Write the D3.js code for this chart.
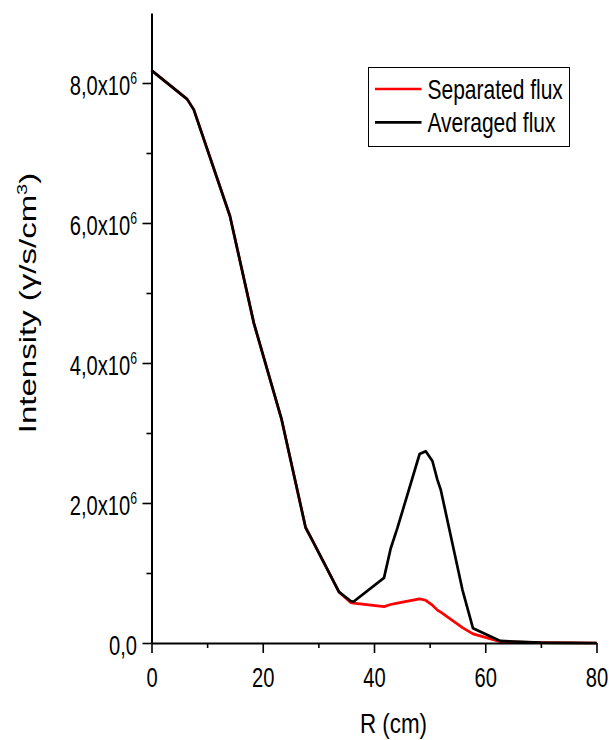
<!DOCTYPE html>
<html>
<head>
<meta charset="utf-8">
<script src="https://cdn.jsdelivr.net/npm/d3@7"></script>
<style>
  body { margin: 0; background: #fff; }
  svg { display: block; font-family: "Liberation Sans", Arial, sans-serif; }
</style>
</head>
<body>
<div id="chart"></div>
<script>
// R positions (cm)
const rValues = [0, 6.4, 7.6, 14.1, 18.4, 23.4, 27.7, 28.9, 33.7, 35.8, 36.3, 41.8, 43.0, 44.2, 48.2, 49.3, 50.5, 51.4, 52.0, 55.9, 57.8, 62.7, 70, 80]
// intensities in units of 1e6 γ/s/cm³
const averagedFlux = [8.18, 7.77, 7.62, 6.10, 4.57, 3.19, 1.65, 1.47, 0.73, 0.60, 0.59, 0.93, 1.35, 1.64, 2.70, 2.74, 2.60, 2.33, 2.19, 0.76, 0.21, 0.03, 0.005, 0]
const separatedFlux = [8.18, 7.77, 7.62, 6.10, 4.57, 3.19, 1.65, 1.47, 0.73, 0.58, 0.57, 0.52, 0.55, 0.57, 0.63, 0.61, 0.54, 0.47, 0.44, 0.22, 0.13, 0.02, 0.005, 0]

const xMajor = [0, 20, 40, 60, 80]
const xMinor = [10, 30, 50, 70]
const yMajor = [0, 2e6, 4e6, 6e6, 8e6]
const yMinor = [1e6, 3e6, 5e6, 7e6]

const seriesNames = ["Separated flux", "Averaged flux"]
const seriesColors = ["#ff0000", "#000000"]

const width = 609
const height = 740
const marginLeft = 151.5
const marginRight = 12.5
const marginTop = 13
const marginBottom = 97
const squeeze = 0.72   // the original text is narrowed horizontally
const font = "28px"

const x = d3.scaleLinear().domain([0, 80]).range([marginLeft, width - marginRight])
const y = d3.scaleLinear().domain([0, 9e6]).range([height - marginBottom, marginTop])

const svg = d3.select("#chart").append("svg")
    .attr("width", width)
    .attr("height", height)
    .attr("viewBox", [0, 0, width, height])

// data lines
const line = d3.line()
    .x((d) => x(d[0]))
    .y((d) => y(d[1] * 1e6))

const series = [separatedFlux, averagedFlux]
series.forEach((vals, i) => {
    svg.append("path")
        .datum(rValues.map((r, k) => [r, vals[k]]))
        .attr("fill", "none")
        .attr("stroke", seriesColors[i])
        .attr("stroke-width", 2.7)
        .attr("stroke-linejoin", "round")
        .attr("d", line)
})

// x axis
const xAxisG = svg.append("g")
    .attr("transform", `translate(0,${y(0)})`)
xAxisG.append("g")
    .call(d3.axisBottom(x).tickValues(xMinor).tickSize(5).tickFormat(""))
    .call((g) => g.select(".domain").remove())
xAxisG.append("g")
    .call(d3.axisBottom(x).tickValues(xMajor).tickSize(10).tickSizeOuter(0).tickFormat(d3.format("d")))
    .call((g) => g.select(".domain").attr("stroke-width", 2))
    .call((g) => g.selectAll("text")
        .attr("font-size", font)
        .attr("fill", "#000")
        .attr("y", 44)
        .attr("dy", null)
        .attr("transform", `scale(${squeeze},1)`))
xAxisG.selectAll(".tick line").attr("stroke-width", 1.6)

// y axis
const yAxisG = svg.append("g")
    .attr("transform", `translate(${x(0)},0)`)
yAxisG.append("g")
    .call(d3.axisLeft(y).tickValues(yMinor).tickSize(5).tickFormat(""))
    .call((g) => g.select(".domain").remove())
yAxisG.append("g")
    .call(d3.axisLeft(y).tickValues(yMajor).tickSize(9).tickSizeOuter(0).tickFormat(""))
    .call((g) => g.select(".domain").attr("stroke-width", 2))
    .call((g) => g.selectAll(".tick").append("text")
        .attr("font-size", font)
        .attr("fill", "#000")
        .attr("text-anchor", "end")
        .attr("x", -14.5 / squeeze)
        .attr("y", 11)
        .attr("transform", `scale(${squeeze},1)`)
        .each(function (d) {
            const t = d3.select(this)
            if (d === 0) {
                t.text("0,0")
                return
            }
            t.append("tspan").text((d / 1e6).toFixed(1).replace(".", ",") + "x10")
            t.append("tspan").attr("font-size", "17px").attr("dy", -11).text("6")
        }))
yAxisG.selectAll(".tick line").attr("stroke-width", 1.6)

// axis titles
svg.append("g")
    .attr("transform", `translate(${x(43.5)},${height - 7}) scale(0.8,1)`)
    .append("text")
    .attr("text-anchor", "middle")
    .attr("font-size", font)
    .text("R (cm)")

const yTitle = svg.append("g")
    .attr("transform", `translate(36,303) rotate(-90) scale(1,${squeeze})`)
    .append("text")
    .attr("text-anchor", "middle")
    .attr("font-size", "33px")
yTitle.append("tspan").text("Intensity (γ/s/cm")
yTitle.append("tspan").attr("font-size", "20px").attr("dy", -12).text("3")
yTitle.append("tspan").attr("dy", 12).text(")")

// legend
const legend = svg.append("g")
    .attr("transform", "translate(368.5,67.5)")
legend.append("rect")
    .attr("width", 201)
    .attr("height", 79)
    .attr("fill", "#fff")
    .attr("stroke", "#000")
    .attr("stroke-width", 1)
seriesNames.forEach((name, i) => {
    const row = legend.append("g").attr("transform", `translate(0,${21.5 + i * 33.3})`)
    row.append("line")
        .attr("x1", 6.5)
        .attr("x2", 53)
        .attr("stroke", seriesColors[i])
        .attr("stroke-width", 2.7)
    row.append("g")
        .attr("transform", `translate(59,10) scale(0.75,1)`)
        .append("text")
        .attr("font-size", font)
        .text(name)
})
</script>
</body>
</html>
